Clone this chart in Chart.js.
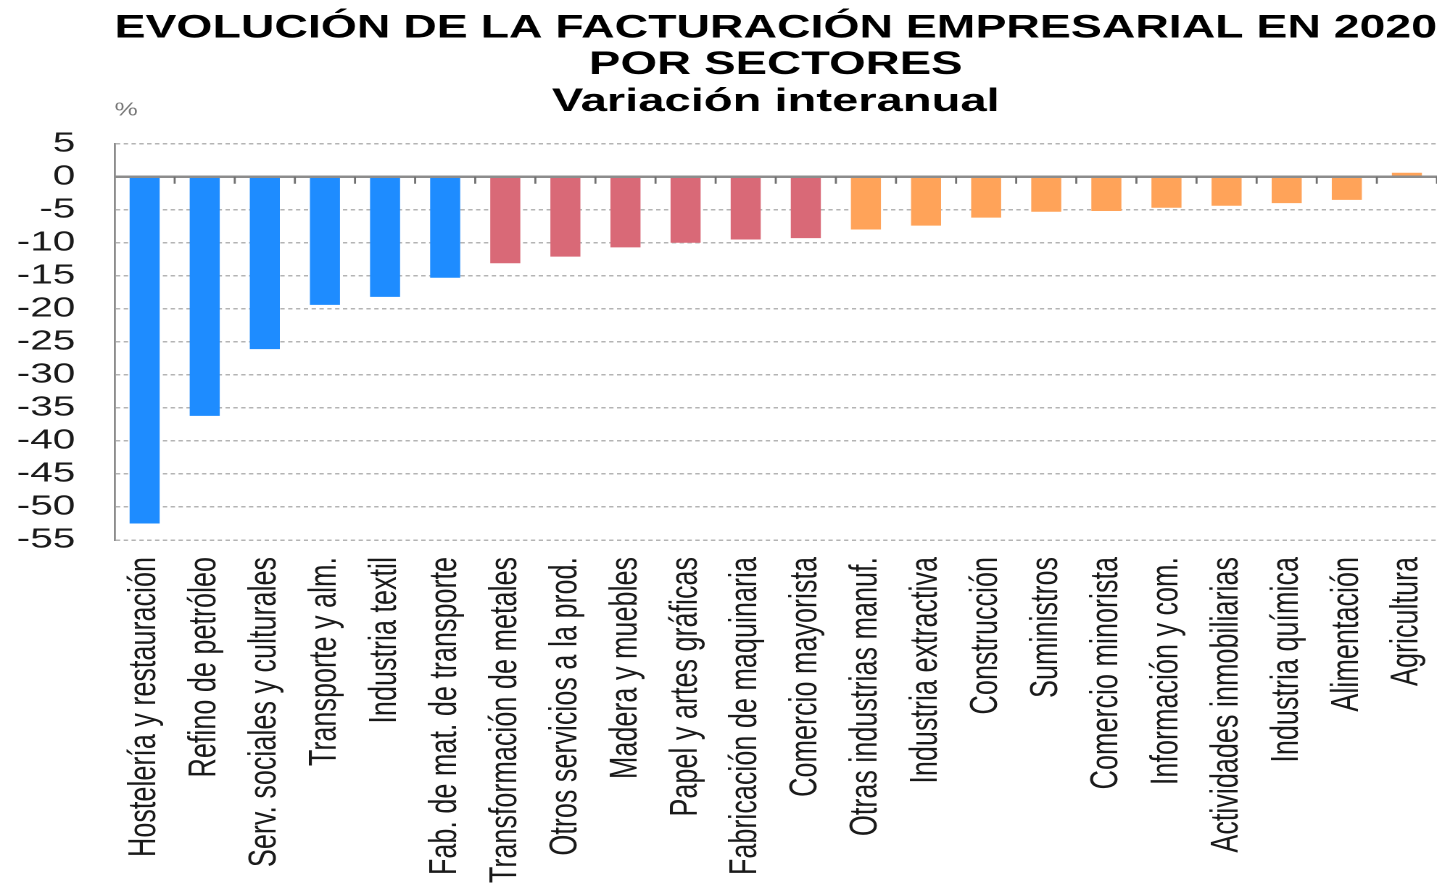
<!DOCTYPE html>
<html lang="es">
<head>
<meta charset="utf-8">
<title>Evolución de la facturación empresarial en 2020 por sectores</title>
<script src="https://cdn.jsdelivr.net/npm/chart.js@4.4.1/dist/chart.umd.min.js"></script>
<style>
  html, body { margin: 0; padding: 0; background: #fff; overflow: hidden; }
  /* The source graphic is stretched sideways, so the chart is drawn narrow and widened. */
  #wrap {
    position: absolute;
    left: 0;
    top: 0;
    width: 991px;
    height: 886px;
    transform: scaleX(1.45);
    transform-origin: 0 0;
  }
</style>
</head>
<body>
<div id="wrap"><canvas id="chart"></canvas></div>
<script>
// ── Data ────────────────────────────────────────────────────────
const sectors = [
  'Hostelería y restauración',
  'Refino de petróleo',
  'Serv. sociales y culturales',
  'Transporte y alm.',
  'Industria textil',
  'Fab. de mat. de transporte',
  'Transformación de metales',
  'Otros servicios a la prod.',
  'Madera y muebles',
  'Papel y artes gráficas',
  'Fabricación de maquinaria',
  'Comercio mayorista',
  'Otras industrias manuf.',
  'Industria extractiva',
  'Construcción',
  'Suministros',
  'Comercio minorista',
  'Información y com.',
  'Actividades inmobiliarias',
  'Industria química',
  'Alimentación',
  'Agricultura',
];

// Year-on-year change, %
const variation = [
  -52.5, -36.2, -26.1, -19.4, -18.2, -15.3,
  -13.1, -12.1, -10.7, -10.0, -9.5, -9.3,
  -8.0, -7.4, -6.2, -5.3, -5.2, -4.7, -4.4, -4.0, -3.5, 0.6,
];

// Colour band of each sector: 0 = hardest hit, 1 = middle, 2 = mildest
const band = [
  0, 0, 0, 0, 0, 0,
  1, 1, 1, 1, 1, 1,
  2, 2, 2, 2, 2, 2, 2, 2, 2, 2,
];

const titleLines = ['EVOLUCIÓN DE LA FACTURACIÓN EMPRESARIAL EN 2020', 'POR SECTORES', 'Variación interanual'];
const unitLabel = '%';
const yMin = -55;
const yMax = 5;
const yStep = 5;

// ── Styling ─────────────────────────────────────────────────────
const COLORS = {
  bands: ['#1e8cff', '#d96977', '#ffa359'],
  text:  '#1a1a1a',
  unit:  '#777777',
  grid:  '#b4b4b4',
  axis:  '#8c8c8c',
  tick:  '#707070',
};

const FONT = '"Liberation Sans", Arial, Helvetica, sans-serif';

Chart.defaults.font.family = FONT;
Chart.defaults.color = COLORS.text;

/** Solid zero line, the short marks hanging under it and the unit label. */
const zeroLinePlugin = {
  id: 'zeroLine',
  afterDatasetsDraw(chart) {
    const { ctx, chartArea, scales: { x, y } } = chart;
    const y0 = y.getPixelForValue(0);
    const half = (x.getPixelForValue(1) - x.getPixelForValue(0)) / 2;

    ctx.save();
    ctx.strokeStyle = COLORS.axis;
    ctx.lineWidth = 2.5;
    ctx.beginPath();
    ctx.moveTo(chartArea.left, y0);
    ctx.lineTo(chartArea.right, y0);
    ctx.stroke();

    ctx.strokeStyle = COLORS.tick;
    ctx.lineWidth = 1.4;
    ctx.beginPath();
    for (let i = 0; i < sectors.length; i++) {
      const px = x.getPixelForValue(i) + half;
      ctx.moveTo(px, y0);
      ctx.lineTo(px, y0 + 7);
    }
    ctx.stroke();

    ctx.font = '18px ' + FONT;
    ctx.fillStyle = COLORS.unit;
    ctx.textBaseline = 'middle';
    ctx.textAlign = 'left';
    ctx.fillText(unitLabel, chartArea.left, chartArea.top - 33);
    ctx.restore();
  },
};

new Chart(document.getElementById('chart'), {
  type: 'bar',
  data: {
    labels: sectors,
    datasets: [{
      data: variation,
      backgroundColor: band.map((b) => COLORS.bands[b]),
      borderWidth: 0,
      barPercentage: 0.5,
      categoryPercentage: 1,
    }],
  },
  options: {
    responsive: true,
    maintainAspectRatio: false,
    devicePixelRatio: 2,
    animation: false,
    layout: { padding: 0 },
    plugins: {
      legend: { display: false },
      tooltip: { enabled: false },
      title: {
        display: true,
        text: titleLines,
        fullSize: false,
        color: '#000',
        font: { size: 32.5, weight: 'bold', lineHeight: 1.13 },
        padding: { top: 10, bottom: 23.5 },
      },
    },
    scales: {
      x: {
        grid: { display: false, drawTicks: false },
        border: { display: false },
        ticks: {
          autoSkip: false,
          minRotation: 90,
          maxRotation: 90,
          padding: 17,
          color: COLORS.text,
          font: { size: 27 },
        },
        afterFit: (scale) => {
          scale.height = 346;
          scale.paddingLeft = 0;
          scale.paddingRight = 0;
        },
      },
      y: {
        min: yMin,
        max: yMax,
        grid: {
          drawTicks: false,
          lineWidth: 1.5,
          color: (ctx) => (ctx.tick && ctx.tick.value === 0 ? 'rgba(0,0,0,0)' : COLORS.grid),
        },
        border: { display: true, color: COLORS.axis, width: 1.4, dash: [3, 2.4] },
        ticks: {
          autoSkip: false,
          stepSize: yStep,
          padding: 27,
          color: COLORS.text,
          font: { size: 28 },
        },
        afterFit: (scale) => { scale.width = 79; },
      },
    },
  },
  plugins: [zeroLinePlugin],
});
</script>
</body>
</html>
